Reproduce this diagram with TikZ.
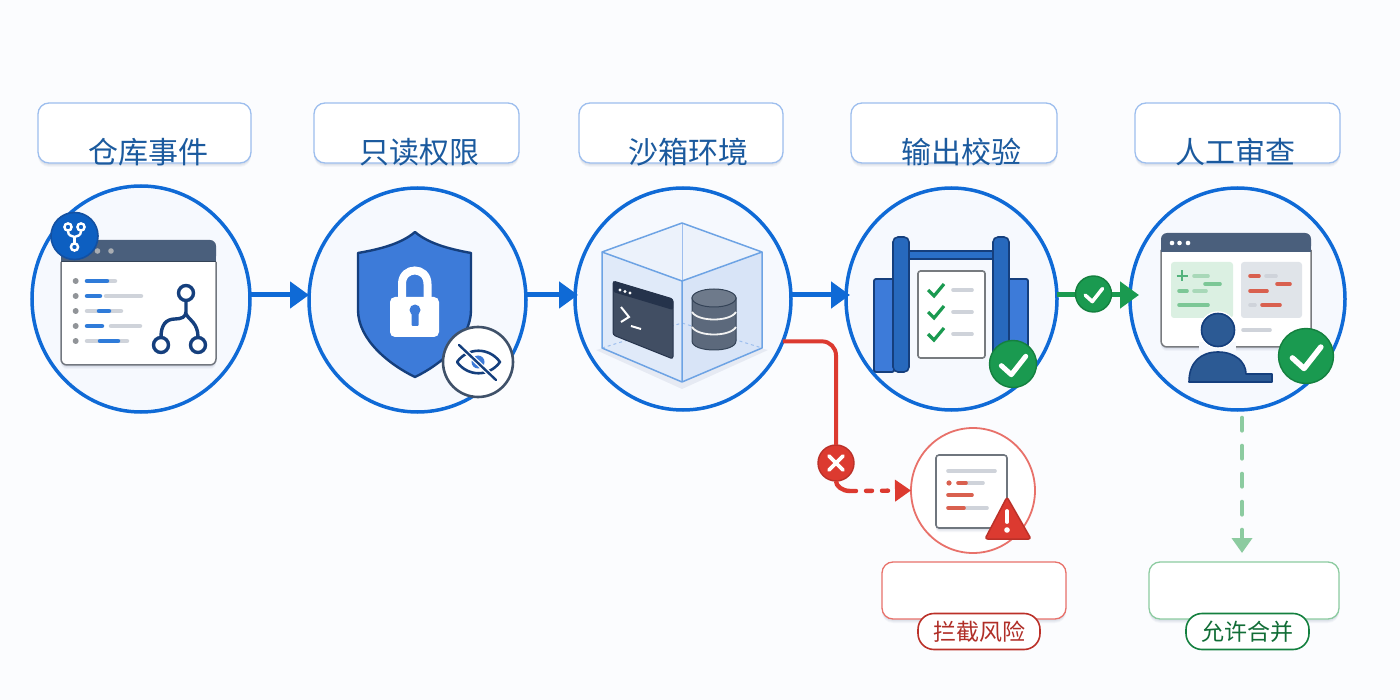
\documentclass[tikz,border=0pt]{standalone}
\usepackage{fontspec}
\setmainfont{Noto Sans CJK SC}
\usetikzlibrary{arrows.meta,shapes.geometric,shadows,calc}
\definecolor{bgc}{HTML}{FBFCFE}
\definecolor{ringblue}{HTML}{0F6AD6}
\definecolor{ringfill}{HTML}{F6F9FE}
\definecolor{boxline}{HTML}{9DBEEE}
\definecolor{labelblue}{HTML}{1B5A9E}
\definecolor{slatehd}{HTML}{4A5F7C}
\definecolor{midblue}{HTML}{3D7BD9}
\definecolor{navy}{HTML}{153F7D}
\definecolor{barb}{HTML}{2F7BD9}
\definecolor{barg}{HTML}{CFD3DA}
\definecolor{okgreen}{HTML}{1A9A50}
\definecolor{okdark}{HTML}{14803F}
\definecolor{softgreen}{HTML}{8CCBA0}
\definecolor{errred}{HTML}{DC3A30}
\definecolor{softred}{HTML}{E8716A}
\definecolor{pbar}{HTML}{D9604F}
\definecolor{gbar}{HTML}{7CC796}
\definecolor{gbarl}{HTML}{A8D8B8}
\definecolor{gpanel}{HTML}{DBF0E2}
\definecolor{termbody}{HTML}{414E63}
\definecolor{termhead}{HTML}{25334B}
\definecolor{dbbody}{HTML}{5C697C}
\definecolor{dbtop}{HTML}{6E7A8B}
\definecolor{person}{HTML}{2C5A94}
\definecolor{shadowc}{HTML}{5A6E96}
\newcommand{\pxbar}[4]{\draw[#1] (#2,#4) -- (#3,#4);}
% white tick: centre, line width, half size
\newcommand{\whitetick}[3]{\draw[white,line width=#2,line cap=round,line join=round,shift={(#1)}] (-.97*#3,.14*#3) -- (-.14*#3,.89*#3) -- (1.06*#3,-.64*#3);}
\tikzset{
  softshadow/.style={
    drop shadow={shadow xshift=0pt,shadow yshift=-4pt,opacity=.05,fill=shadowc},
    drop shadow={shadow xshift=0pt,shadow yshift=-3pt,opacity=.06,fill=shadowc},
    drop shadow={shadow xshift=0pt,shadow yshift=-2pt,opacity=.08,fill=shadowc}},
  ring/.style={ellipse,draw=ringblue,fill=ringfill,line width=3.5pt,inner sep=0pt,outer sep=0pt},
  headbox/.style={rectangle,rounded corners=11pt,draw=boxline,fill=white,line width=1.3pt,minimum height=60pt,inner sep=0pt,outer sep=0pt,softshadow},
  headtext/.style={text=labelblue,font=\fontsize{30}{32}\selectfont,inner sep=0pt},
  mainarrow/.style={line width=5pt,-{Triangle[length=19pt,width=26pt]}},
  barblue/.style={barb,line width=4.5pt,line cap=round},
  bargray/.style={barg,line width=4.5pt,line cap=round},
  panelbar/.style={line width=3.6pt,line cap=round},
  okbadge/.style={circle,fill=okgreen,draw=okdark,line width=1.4pt,inner sep=0pt,outer sep=0pt},
}
\begin{document}
\begin{tikzpicture}[x=1pt,y=-1pt]
\useasboundingbox (0,0) rectangle (1400,700);
\fill[bgc] (0,0) rectangle (1400,700);

% header boxes
\node[headbox,minimum width=213pt] (b1) at (144.5,133) {};
\node[headbox,minimum width=205pt] (b2) at (416.5,133) {};
\node[headbox,minimum width=204pt] (b3) at (681,133) {};
\node[headbox,minimum width=206pt] (b4) at (954,133) {};
\node[headbox,minimum width=205pt] (b5) at (1237.5,133) {};
\node[headtext] (t1) at (148,152) {仓库事件};
\node[headtext] (t2) at (419,152) {只读权限};
\node[headtext] (t3) at (688,152) {沙箱环境};
\node[headtext] (t4) at (961,152) {输出校验};
\node[headtext] (t5) at (1235,152) {人工审查};

% circles
\node[ring,minimum width=218pt,minimum height=226pt] (c1) at (141,299) {};
\node[ring,minimum width=217pt,minimum height=224pt] (c2) at (417.5,300) {};
\node[ring,minimum width=216pt,minimum height=222pt] (c3) at (683,299) {};
\node[ring,minimum width=211pt,minimum height=222pt] (c4) at (951.5,299) {};
\node[ring,minimum width=215pt,minimum height=222pt] (c5) at (1237.5,299) {};
\node[ellipse,draw=softred,fill=white,line width=1.8pt,inner sep=0pt,outer sep=0pt,minimum width=124pt,minimum height=125pt] (c6) at (973,490.5) {};

% icon 1: repository window
\fill[white,rounded corners=6pt,softshadow] (61,240) rectangle (216,365);
\fill[slatehd,rounded corners=6pt] (61,240) rectangle (216,262);
\fill[slatehd] (61,250) rectangle (216,262);
\draw[slatehd!70!black,line width=1pt] (61,262) -- (216,262);
\draw[gray!75!slatehd,line width=1.5pt,rounded corners=6pt] (61,262) -- (61,365) -- (216,365) -- (216,262);
\fill[gray!70!slatehd!60] (97.5,251) circle (2.8);
\fill[gray!70!slatehd!60] (111,251) circle (2.8);
\foreach \yy in {281,296,311,326,341} {\fill[black!30!barg] (75.7,\yy) circle (3);}
\pxbar{bargray}{87}{115}{281}\pxbar{barblue}{87}{107}{281}
\pxbar{barblue}{87}{100}{296}\pxbar{bargray}{106}{141}{296}
\pxbar{bargray}{87}{121}{311}\pxbar{barblue}{99}{109}{311}
\pxbar{barblue}{87}{102}{326}\pxbar{bargray}{111}{140}{326}
\pxbar{bargray}{87}{127}{341}\pxbar{barblue}{100}{118}{341}
\draw[navy,line width=3.4pt,line cap=round] (186,301) -- (186,312) .. controls (186,317) and (181,319) .. (175,319) .. controls (166,319) and (161,325) .. (161,337);
\draw[navy,line width=3.4pt] (186,314) .. controls (189,320) and (198,323) .. (198,337);
\draw[navy,line width=3.4pt] (186,293) circle (7.5);
\draw[navy,line width=3.4pt] (161,345) circle (7.5);
\draw[navy,line width=3.4pt] (198,345) circle (7.5);
\node[circle,fill=ringblue!90!black,draw=navy!60!ringblue,line width=1.6pt,minimum size=47pt,inner sep=0pt,outer sep=0pt] (bd1) at (74.5,236) {};
\begin{scope}[white,line width=2.4pt]
\draw (68,227) circle (3.6);
\draw (81,227) circle (3.6);
\draw (74.5,247) circle (3.6);
\draw (74.5,243) -- (74.5,237);
\draw (68,231) .. controls (68,236) and (72,236) .. (74.5,237) .. controls (77,236) and (81,236) .. (81,231);
\end{scope}

% icon 2: shield
\path[fill=midblue,draw=navy,line width=2.4pt,line join=round]
  (415,232) .. controls (400,245) and (375,250) .. (358,253) -- (358,310)
  .. controls (358,340) and (390,365) .. (415,377)
  .. controls (440,365) and (471,340) .. (471,310) -- (471,253)
  .. controls (455,250) and (430,245) .. (415,232) -- cycle;
\draw[white,line width=8pt] (402,300) -- (402,284) .. controls (402,266) and (427.5,266) .. (427.5,284) -- (427.5,300);
\fill[white,rounded corners=5pt] (390,297) rectangle (439,337);
\fill[midblue] (415,310) circle (5.5);
\fill[midblue,rounded corners=1pt] (411.5,310) rectangle (418.5,326);
\node[circle,fill=white,draw=slatehd!85!black,line width=2.6pt,minimum size=70pt,inner sep=0pt,outer sep=0pt] (bd2) at (478,362) {};
\draw[navy,line width=2.6pt,line join=round] (457,362) .. controls (468,347) and (489,347) .. (500,362) .. controls (489,377) and (468,377) .. (457,362) -- cycle;
\fill[midblue] (478,362) circle (6.5);
\draw[white,line width=5pt] (459,345) -- (496,380);
\draw[navy,line width=2.4pt,line cap=round] (459,345) -- (496,380);

% icon 3: sandbox cube
\fill[shadowc,opacity=.10] (596,350) -- (682,389) -- (768,350) -- (682,330) -- cycle;
\fill[midblue!12!white] (682,223) -- (762,252) -- (762,348) -- (682,382) -- (602,348) -- (602,252) -- cycle;
\fill[midblue!10!white] (602,252) -- (682,223) -- (762,252) -- (682,281) -- cycle;
\fill[midblue!20!white] (682,281) -- (762,252) -- (762,348) -- (682,382) -- cycle;
\fill[midblue!16!white] (682,281) -- (602,252) -- (602,348) -- (682,382) -- cycle;
\draw[boxline,line width=1pt] (682,223) -- (682,323);
\draw[boxline,line width=1pt,dashed] (602,348) -- (682,323) -- (762,348);
\draw[barb!70!white,line width=1.5pt,line join=round] (602,252) -- (682,223) -- (762,252) -- (762,348) -- (682,382) -- (602,348) -- cycle;
\draw[barb!70!white,line width=1.5pt,line join=round] (602,252) -- (682,281) -- (762,252) (682,281) -- (682,382);
\path[fill=termbody,draw=termhead,line width=1pt,rounded corners=2.5pt] (613,281) -- (673,299) -- (673,359) -- (613,335) -- cycle;
\fill[termhead,rounded corners=2pt] (613,281) -- (673,299) -- (673,310) -- (613,292) -- cycle;
\fill[white] (620,290) circle (1.6) (625,291.5) circle (1.6) (630,293) circle (1.6);
\draw[white,line width=2pt,line join=miter] (621,307) -- (629,317) -- (621,322);
\draw[white,line width=2pt] (631,326) -- (641,329);
\path[fill=dbbody,draw=slatehd!70!black,line width=1pt] (692,298) -- (692,341) .. controls (692,353) and (736,353) .. (736,341) -- (736,298) -- cycle;
\path[fill=dbtop,draw=slatehd!70!black,line width=1pt] (714,298) ellipse (22 and 9);
\draw[white!90!gray,line width=1.8pt] (692,312) .. controls (698,322) and (730,322) .. (736,312);
\draw[white!90!gray,line width=1.8pt] (692,327) .. controls (698,337) and (730,337) .. (736,327);

% icon 4: gate with checklist
\path[fill=midblue,draw=navy,line width=1.8pt,rounded corners=2pt] (874,279) rectangle (894,372);
\path[fill=midblue,draw=navy,line width=1.8pt,rounded corners=2pt] (1008,279) rectangle (1028,360);
\path[fill=barb!80!navy,draw=navy,line width=1.8pt] (908,251) rectangle (994,259);
\path[fill=barb!70!navy,draw=navy,line width=1.6pt,rounded corners=5pt] (893,237) rectangle (909,372);
\path[fill=barb!70!navy,draw=navy,line width=1.6pt,rounded corners=5pt] (993,237) rectangle (1009,372);
\path[fill=white,draw=gray!85!slatehd,line width=1.6pt,rounded corners=2.5pt] (918,271) rectangle (985,358);
\foreach \yy in {290,312,334} {
  \draw[okgreen,line width=3.2pt,line join=miter] (928,\yy) -- (934,\yy+6) -- (944,\yy-6);
  \draw[barg,line width=3.6pt,line cap=round] (953,\yy) -- (972,\yy);
}
\node[okbadge,minimum size=47pt] (bd4) at (1013,364) {};
\whitetick{1013,364}{5pt}{12}

% icon 5: review window
\fill[white,rounded corners=6pt,softshadow] (1161,233) rectangle (1311,347);
\draw[gray!85!slatehd,line width=1.5pt,rounded corners=6pt] (1161,250) -- (1161,347) -- (1311,347) -- (1311,250);
\fill[slatehd,rounded corners=6pt] (1161,233) rectangle (1311,252);
\fill[slatehd] (1161,243) rectangle (1311,252);
\fill[white] (1172,243) circle (2.3) (1179.5,243) circle (2.3) (1188,243) circle (2.3);
\fill[gpanel,rounded corners=3pt] (1171,262) rectangle (1233,318);
\fill[slatehd!17!white,rounded corners=3pt] (1241,262) rectangle (1302,318);
\draw[okgreen!75!white,line width=2.6pt] (1176.5,276) -- (1187.5,276) (1182,270.5) -- (1182,281.5);
\pxbar{panelbar,gbarl}{1194}{1208}{276}
\pxbar{panelbar,gbar}{1205}{1220}{284}
\pxbar{panelbar,gbar}{1179}{1187}{291}
\pxbar{panelbar,gbarl}{1194}{1206}{291}
\pxbar{panelbar,gbar}{1179}{1208}{305}
\pxbar{panelbar,pbar}{1250}{1259}{276}
\pxbar{panelbar,barg}{1266}{1276}{276}
\pxbar{panelbar,pbar}{1277}{1290}{284}
\pxbar{panelbar,pbar}{1250}{1267}{291}
\pxbar{panelbar,barg}{1250}{1255}{305}
\pxbar{panelbar,pbar}{1262}{1280}{305}
\pxbar{panelbar,barg}{1243}{1270}{330}
\fill[ringfill] (1199,342) rectangle (1236,352);
\path[fill=person,draw=navy,line width=1.6pt,line join=round] (1189,382) .. controls (1189,362) and (1201,352) .. (1218,352) .. controls (1235,352) and (1246,362) .. (1246,374) -- (1272,374) -- (1272,382) -- cycle;
\path[fill=person,draw=white,line width=1.5pt] (1218,330) circle (18);
\path[fill=person,draw=navy,line width=1.6pt] (1218,330) circle (16.5);
\node[okbadge,minimum size=55pt] (bd5) at (1306,356) {};
\whitetick{1306,356}{5.5pt}{14}

% icon 6: blocked document
\path[fill=white,draw=gray!70!slatehd,line width=1.6pt,rounded corners=3pt,softshadow] (936,455) rectangle (1007,528);
\pxbar{panelbar,barg}{948}{995}{471}
\fill[pbar] (949,483) circle (2.6);
\pxbar{panelbar,barg}{966}{983}{483}
\pxbar{panelbar,pbar}{958}{966}{483}
\pxbar{panelbar,pbar}{948}{972}{495}
\pxbar{panelbar,barg}{966}{987}{508}
\pxbar{panelbar,pbar}{948}{964}{508}
\path[fill=errred,draw=errred!85!black,line width=1.5pt,line join=round,rounded corners=2.5pt] (1007,497) -- (1031,539) -- (985,539) -- cycle;
\draw[white,line width=3.8pt,line cap=round] (1007,511) -- (1007,522);
\fill[white] (1007,530) circle (2.8);

% bottom boxes
\node[rectangle,rounded corners=11pt,draw=softred,fill=white,line width=1.3pt,minimum width=184pt,minimum height=57pt,inner sep=0pt,outer sep=0pt,softshadow] (rbox) at (974,590.5) {};
\node[rectangle,rounded corners=11pt,draw=softgreen,fill=white,line width=1.3pt,minimum width=190pt,minimum height=57pt,inner sep=0pt,outer sep=0pt,softshadow] (gbox) at (1244,590.5) {};
\node[rectangle,rounded corners=16pt,draw=errred!85!black,fill=white,line width=1.6pt,minimum width=122pt,minimum height=36pt,inner sep=0pt,outer sep=0pt,text=errred!80!black,font=\fontsize{23}{26}\selectfont] (rpill) at (979,631.5) {拦截风险};
\node[rectangle,rounded corners=16pt,draw=okdark,fill=white,line width=1.6pt,minimum width=123pt,minimum height=36pt,inner sep=0pt,outer sep=0pt,text=okdark!85!black,font=\fontsize{23}{26}\selectfont] (gpill) at (1247.5,631.5) {允许合并};

% connectors
\draw[mainarrow,ringblue] ([yshift=4pt]c1.east) -- ([yshift=5pt]c2.west);
\draw[mainarrow,ringblue] ([yshift=5pt]c2.east) -- ([xshift=3pt,yshift=4pt]c3.west);
\draw[mainarrow,ringblue] ([yshift=4pt]c3.east) -- ([xshift=4pt,yshift=4pt]c4.west);
\draw[mainarrow,okgreen] ([yshift=4pt]c4.east) -- ([xshift=9pt,yshift=4pt]c5.west);
\node[okbadge,minimum size=36pt] (bdg) at (1093.5,294) {};
\whitetick{1093.5,294}{3.6pt}{8.5}

\node[circle,fill=errred,draw=errred!85!black,line width=1.4pt,minimum size=36pt,inner sep=0pt,outer sep=0pt] (bdx) at (836,463) {};
\coordinate (rbend) at (850,491);
\draw[errred,line width=4pt,rounded corners=14pt] (c3.-23) -| (bdx.north);
\draw[errred,line width=4.4pt] (bdx.south) .. controls (836,486) and (842,491) .. (rbend);
\draw[errred,line width=4.4pt,line cap=round,dash pattern=on 6pt off 10pt,-{Triangle[length=16pt,width=21pt]}] (rbend) -- (c6.west);
\draw[white,line width=3.8pt,line cap=round] (829,456) -- (843,470) (843,456) -- (829,470);

\draw[softgreen,line width=4.6pt,line cap=round,dash pattern=on 12.4pt off 15.6pt,-{Triangle[length=15pt,width=20pt]}] ([shift={(4.5pt,-8pt)}]c5.south) -- ([shift={(-2pt,9pt)}]gbox.north);
\end{tikzpicture}
\end{document}
